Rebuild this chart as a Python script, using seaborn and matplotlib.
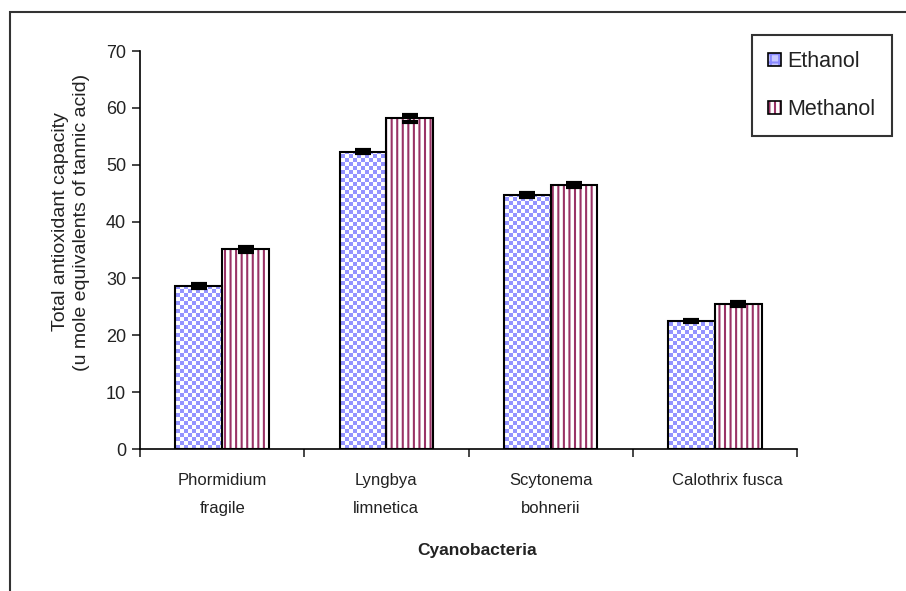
import matplotlib
matplotlib.use("Agg")
import matplotlib.pyplot as plt
import matplotlib.transforms as mtransforms
import seaborn as sns
import numpy as np
import pandas as pd
from matplotlib.patches import Rectangle
from matplotlib.colors import ListedColormap
from matplotlib.legend_handler import HandlerTuple

# === Data ===
species = ["Phormidium\nfragile", "Lyngbya\nlimnetica", "Scytonema\nbohnerii", "Calothrix fusca"]
solvents = ["Ethanol", "Methanol"]
ethanol = [28.7, 52.3, 44.7, 22.5]
methanol = [35.1, 58.2, 46.4, 25.5]
ethanol_err = [0.3, 0.3, 0.3, 0.2]
methanol_err = [0.4, 0.6, 0.4, 0.3]

df = pd.DataFrame({
    "species": species * 2,
    "solvent": ["Ethanol"] * 4 + ["Methanol"] * 4,
    "value": ethanol + methanol,
    "err": ethanol_err + methanol_err,
})

sns.set_style("white")
plt.rcParams["font.family"] = ["Liberation Sans", "DejaVu Sans"]
plt.rcParams["hatch.linewidth"] = 1.5
text_color = "#222222"

fig = plt.figure(figsize=(9.06, 5.91), dpi=100)
ax = fig.add_axes([140 / 906, 1 - 449 / 591, 657 / 906, 398 / 591])

# outer frame of the original chart area
fig.patches.append(Rectangle((10 / 906, -0.1), 1.2, 1 - 12 / 591 + 0.1, transform=fig.transFigure,
                             fill=False, edgecolor="#333333", linewidth=1.5))

sns.barplot(data=df, x="species", y="value", hue="solvent", order=species, hue_order=solvents,
            width=0.57, errorbar=None, legend=False, ax=ax)

ax.set_ylim(0, 70)
ax.set_xlim(-0.5, 3.5)

# checkerboard texture for the ethanol bars
nx, ny = 164, 100
checker = (np.add.outer(np.arange(ny), np.arange(nx)) % 2).astype(float)
check_cmap = ListedColormap(["white", "#9494ff"])

for cont, name in zip(ax.containers, solvents):
    errs = df[df.solvent == name]["err"].tolist()
    xs, ys = [], []
    for bar in cont:
        x, y = bar.get_xy()
        w, h = bar.get_width(), bar.get_height()
        if name == "Ethanol":
            bar.set_facecolor("white")
            bar.set_linewidth(0)
            im = ax.imshow(checker, cmap=check_cmap, extent=(-0.5, 3.5, 0, 70), aspect="auto",
                           interpolation="nearest", origin="lower", zorder=2)
            im.set_clip_path(bar)
        else:
            bar.set_facecolor("white")
            bar.set_edgecolor("#993366")
            bar.set_hatch("|||")
            bar.set_linewidth(0)
        ax.add_patch(Rectangle((x, y), w, h, fill=False, edgecolor="black", linewidth=1.5, zorder=3))
        xs.append(x + w / 2)
        ys.append(h)
    ax.errorbar(xs, ys, yerr=errs, fmt="none", ecolor="black", elinewidth=1.2,
                capsize=6, capthick=3, zorder=4)

# legend swatches: pattern + black outline overlaid
outline = Rectangle((0, 0), 1, 1, fill=False, edgecolor="black", linewidth=1.2)
handles = [
    (Rectangle((0, 0), 1, 1, facecolor="#c8c8ff", hatch="++", edgecolor="#8a8aff", linewidth=0), outline),
    (Rectangle((0, 0), 1, 1, facecolor="white", hatch="|||", edgecolor="#993366", linewidth=0), outline),
]

# axes styling
ax.set_yticks(range(0, 71, 10))
ax.tick_params(axis="y", labelsize=13, length=6, width=1.2, direction="out", left=True, pad=4,
               labelcolor=text_color)
ax.set_xticks([-0.5, 0.5, 1.5, 2.5, 3.5])
ax.set_xticklabels([])
ax.set_xticks(range(4), minor=True)
ax.set_xticklabels(species, minor=True, fontsize=12, linespacing=2.1, color=text_color)
ax.tick_params(axis="x", which="major", length=6, width=1.2, direction="out", bottom=True)
ax.tick_params(axis="x", which="minor", length=0, pad=17)
# last label sits a little right of its group in the original
last = ax.get_xticklabels(minor=True)[-1]
last.set_transform(last.get_transform() + mtransforms.ScaledTranslation(0.12, 0, fig.dpi_scale_trans))
for side in ["top", "right"]:
    ax.spines[side].set_visible(False)
for side in ["left", "bottom"]:
    ax.spines[side].set_color("black")
    ax.spines[side].set_linewidth(1.2)

ax.set_xlabel("Cyanobacteria", fontsize=12.5, fontweight="bold", color=text_color)
ax.xaxis.set_label_coords((477 - 140) / 657, (449 - 543) / 398)
ax.set_ylabel("Total antioxidant capacity\n(u mole equivalents of tannic acid)",
              fontsize=14, linespacing=1.3, color=text_color)
ax.yaxis.set_label_coords((90 - 140) / 657, (449 - 222) / 398)

leg = ax.legend(handles, solvents, loc="upper left", bbox_to_anchor=(752 / 906, 1 - 35 / 591),
                bbox_transform=fig.transFigure, fontsize=15.5, fancybox=False, frameon=True,
                edgecolor="black", labelspacing=1.25, handlelength=0.6, handleheight=0.6,
                handletextpad=0.3, borderpad=0.75, borderaxespad=0,
                handler_map={tuple: HandlerTuple(ndivide=1, pad=0)})
leg.get_frame().set_linewidth(1.5)
for t in leg.get_texts():
    t.set_color(text_color)

fig.savefig("out.png", dpi=100)
